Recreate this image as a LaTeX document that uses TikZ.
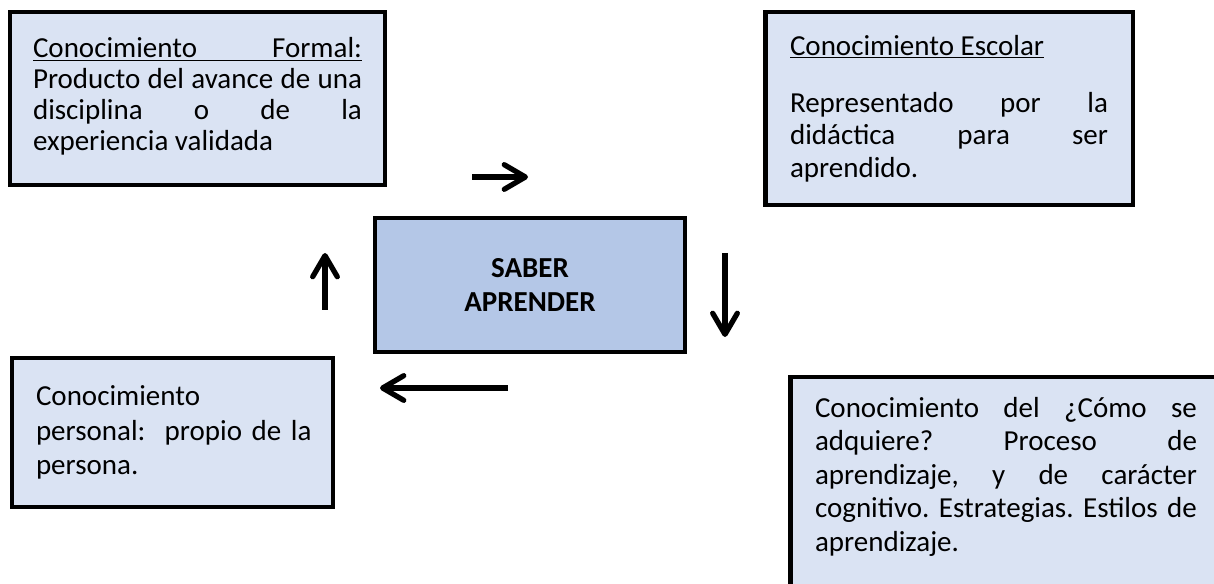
\documentclass[tikz,border=0pt]{standalone}
\usepackage{fontspec}
\setmainfont{Carlito}
\usetikzlibrary{arrows.meta}
\definecolor{boxblue}{HTML}{DAE3F3}
\definecolor{midblue}{HTML}{B4C7E7}
\setlength{\parindent}{0pt}
\frenchspacing

\begin{document}
\begin{tikzpicture}[x=0.02cm,y=-0.02cm,
    kbox/.style={draw, line width=2.8pt, fill=boxblue, inner ysep=0pt,
      font=\fontsize{16.5}{18.5}\selectfont, align=justify},
    flow/.style={-{Straight Barb[length=12pt,width=14pt,line join=round,line cap=round]},
      line width=3pt}]
  \useasboundingbox (0,0) rectangle (1214,584);
  \clip (0,0) rectangle (1214,584);
  \node[kbox, minimum width=7.5cm, minimum height=3.46cm, inner xsep=0.46cm,
    text width=6.58cm, font=\fontsize{16.5}{17.6}\selectfont] (F) at (197.5,98.5)
    {\underline{\makebox[\hsize][s]{Conocimiento Formal:}}\\
     Producto del avance de una\linebreak
     disciplina o de la\linebreak
     experiencia validada\rule[-5pt]{0pt}{0pt}};
  \node[kbox, minimum width=7.36cm, minimum height=3.86cm, inner xsep=0.5cm,
    text width=6.36cm] (E) at (949,108.5)
    {\underline{Conocimiento Escolar}\\[14pt]
     Representado por la\linebreak
     didáctica para ser\linebreak
     aprendido.};
  \node[kbox, fill=midblue, align=center, minimum width=6.2cm, minimum height=2.68cm,
    font=\bfseries\fontsize{16.5}{19.8}\selectfont] (S) at (530,285)
    {SABER\\APRENDER};
  \node[kbox, align=left, minimum width=6.42cm, minimum height=2.98cm, inner xsep=0.48cm,
    text width=5.46cm, font=\fontsize{16.5}{19.8}\selectfont] (P) at (172.5,432.5)
    {Conocimiento\\
     \mbox{personal:~ propio de la}\\
     persona.};
  % sale del margen por la derecha y por abajo
  \node[kbox, minimum width=9cm, minimum height=4.66cm, inner xsep=0.5cm,
    text width=8cm, font=\fontsize{16.5}{19}\selectfont] (C) at (1015,493.5)
    {\parbox{7.64cm}{Conocimiento del ¿Cómo se\linebreak
     adquiere? Proceso de\linebreak
     aprendizaje, y de carácter\linebreak
     cognitivo. Estrategias. Estilos de\linebreak
     aprendizaje.\rule[-22pt]{0pt}{0pt}}};
  % flechas del ciclo
  \coordinate (r1) at (472,177); \coordinate (r2) at (528,177);
  \coordinate (d1) at (725,253); \coordinate (d2) at (725,337);
  \coordinate (l1) at (508,388); \coordinate (l2) at (380,388);
  \coordinate (u1) at (325,310); \coordinate (u2) at (325,253);
  \draw[flow] (r1) -- (r2); \draw[flow] (d1) -- (d2);
  \draw[flow] (l1) -- (l2); \draw[flow] (u1) -- (u2);
\end{tikzpicture}
\end{document}
